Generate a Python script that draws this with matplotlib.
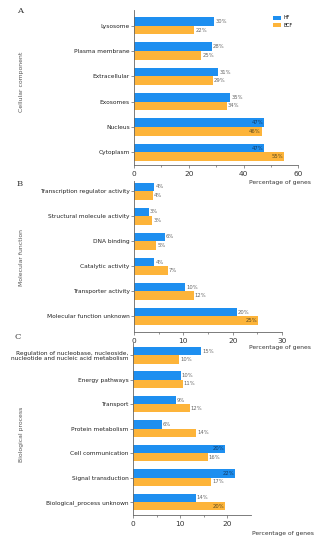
import matplotlib
matplotlib.use("Agg")
import matplotlib.pyplot as plt
import numpy as np

# Panel A: Cellular component
cats_a = ["Lysosome", "Plasma membrane", "Extracellular", "Exosomes", "Nucleus", "Cytoplasm"]
hf_a = [29.3, 28.4, 30.7, 35.2, 47.6, 47.6]
bcf_a = [22.0, 24.6, 28.7, 33.8, 46.6, 54.9]
hf_a_lab = ["30%", "28%", "31%", "35%", "47%", "47%"]
bcf_a_lab = ["22%", "25%", "29%", "34%", "46%", "55%"]
ticks_a = [0, 20, 40, 60]

# Panel B: Molecular function
cats_b = ["Transcription regulator activity", "Structural molecule activity", "DNA binding",
          "Catalytic activity", "Transporter activity", "Molecular function unknown"]
hf_b = [4.1, 3.0, 6.2, 4.1, 10.3, 20.8]
bcf_b = [3.8, 3.7, 4.5, 6.8, 12.1, 25.2]
hf_b_lab = ["4%", "3%", "6%", "4%", "10%", "20%"]
bcf_b_lab = ["4%", "3%", "5%", "7%", "12%", "25%"]
ticks_b = [0, 10, 20, 30]

# Panel C: Biological process
cats_c = ["Regulation of nucleobase, nucleoside,\nnucleotide and nucleic acid metabolism",
          "Energy pathways", "Transport", "Protein metabolism", "Cell communication",
          "Signal transduction", "Biological_process unknown"]
hf_c = [14.5, 10.2, 9.1, 6.1, 19.6, 21.7, 13.4]
bcf_c = [9.8, 10.6, 12.1, 13.5, 15.9, 16.6, 19.6]
hf_c_lab = ["15%", "10%", "9%", "6%", "20%", "22%", "14%"]
bcf_c_lab = ["10%", "11%", "12%", "14%", "16%", "17%", "20%"]
ticks_c = [0, 10, 20]

series_names = ["HF", "BCF"]
BLUE = "#1E8FF0"
ORANGE = "#FDB43A"

W, H = 327, 550
fig = plt.figure(figsize=(W / 100, H / 100), dpi=100)


def ax_at(x0, x1, y0, y1):
    return fig.add_axes([x0 / W, 1 - y1 / H, (x1 - x0) / W, (y1 - y0) / H])


def panel(ax, cats, hf, bcf, hfl, bcfl, ticks, xmax, ylim, lx, ly, bw=0.34):
    n = len(cats)
    y = np.arange(n)
    ax.barh(y - bw / 2, hf, height=bw, color=BLUE, label=series_names[0])
    ax.barh(y + bw / 2, bcf, height=bw, color=ORANGE, label=series_names[1])
    for vals, labs, off in ((hf, hfl, -bw / 2), (bcf, bcfl, bw / 2)):
        for i, (v, l) in enumerate(zip(vals, labs)):
            if v / xmax >= 0.75:
                ax.text(v - xmax * 0.008, i + off, l, ha="right", va="center",
                        fontsize=3.8, color="#5a4a20" if off > 0 else "#123a66")
            else:
                ax.text(v + xmax * 0.008, i + off, l, ha="left", va="center",
                        fontsize=3.8, color="#666666")
    ax.set_xlim(0, xmax)
    ax.set_ylim(*ylim)
    ax.set_yticks(y)
    ax.set_yticklabels(cats, fontsize=4.25, color="#222222", linespacing=1.15,
                       multialignment="right")
    ax.set_xticks(ticks)
    ax.set_xticklabels([str(t) for t in ticks], fontsize=5.3, color="#333333")
    step = ticks[1] - ticks[0]
    ax.set_xticks(np.arange(step / 2, xmax, step), minor=True)
    for s in ("top", "right"):
        ax.spines[s].set_visible(False)
    for s in ("left", "bottom"):
        ax.spines[s].set_color("#666666")
        ax.spines[s].set_linewidth(0.6)
    ax.tick_params(axis="both", which="both", color="#666666", width=0.5)
    ax.tick_params(axis="x", which="major", length=2.5, pad=1.5)
    ax.tick_params(axis="x", which="minor", length=1.5)
    ax.tick_params(axis="y", length=2, pad=1)
    fig.text(lx / W, 1 - ly / H, "Percentage of genes", fontsize=4.3, color="#333333",
             ha="center", va="center")
    return ax


axA = ax_at(134, 298.3, 10, 165)
panel(axA, cats_a, hf_a, bcf_a, hf_a_lab, bcf_a_lab, ticks_a, 60, (5.5, -0.62), 280, 182.5)
axB = ax_at(134, 282, 181, 332)
panel(axB, cats_b, hf_b, bcf_b, hf_b_lab, bcf_b_lab, ticks_b, 30, (5.62, -0.4), 280, 347)
axC = ax_at(133, 250.5, 343, 515)
panel(axC, cats_c, hf_c, bcf_c, hf_c_lab, bcf_c_lab, ticks_c, 25, (6.53, -0.5), 283, 533)

# panel letters and y labels
for letter, (x, y) in zip("ABC", [(20, 11), (20, 184), (18, 337)]):
    fig.text(x / W, 1 - y / H, letter, fontsize=6, family="DejaVu Serif", color="#333333",
             ha="center", va="center")
for lab, y in zip(["Cellular component", "Molecular function", "Biological process"], [82, 258, 434]):
    fig.text(22 / W, 1 - y / H, lab, fontsize=4.4, color="#555555", rotation=90,
             ha="center", va="center")

leg = axA.legend(loc="upper left", bbox_to_anchor=(271 / W, 1 - 13 / H),
                 bbox_transform=fig.transFigure, fontsize=3.4, frameon=False,
                 handlelength=1.6, handleheight=0.8, labelspacing=0.5, handletextpad=0.5,
                 borderpad=0)

fig.savefig("out.png", dpi=100, facecolor="white")
